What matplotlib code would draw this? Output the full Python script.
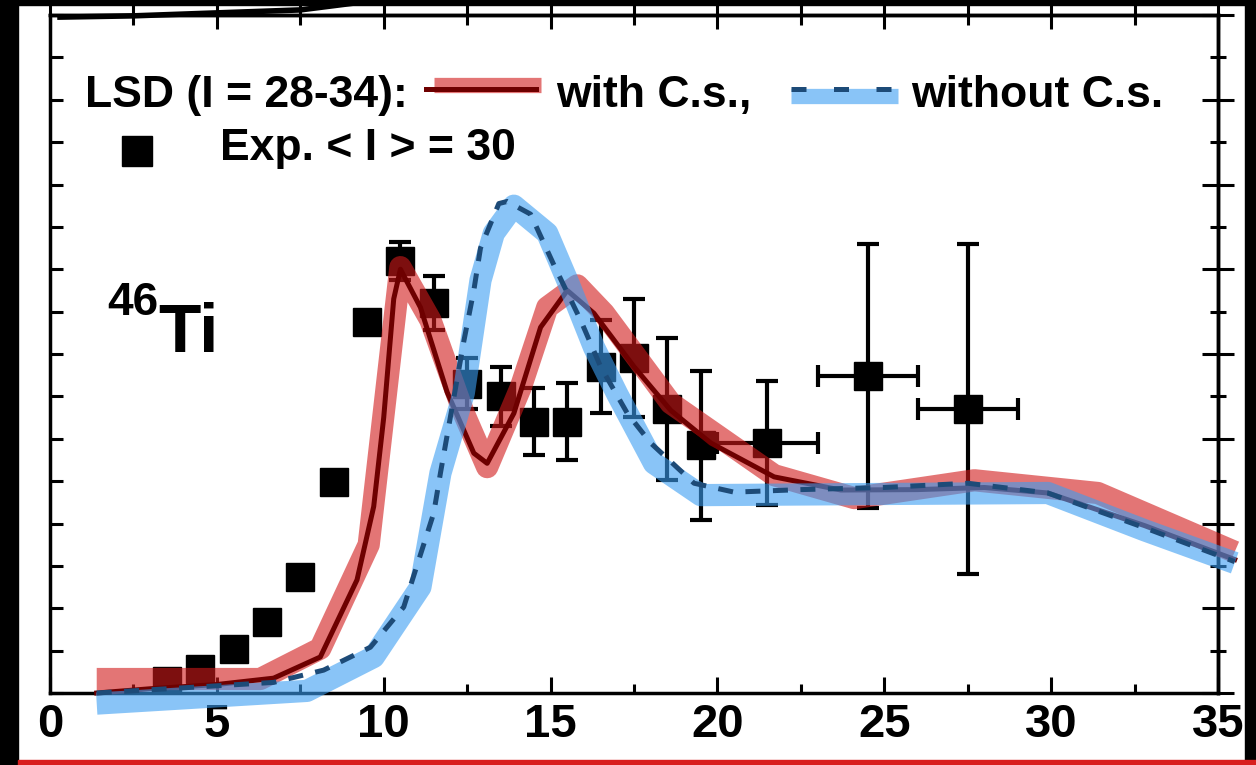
import matplotlib
matplotlib.use("Agg")
import matplotlib.pyplot as plt
from matplotlib.patches import Rectangle
from matplotlib.ticker import MultipleLocator

plt.rcParams['font.family'] = ['Liberation Sans', 'DejaVu Sans']
plt.rcParams['font.weight'] = 'bold'

# experimental points, <I> = 30
exp_x = [3.5, 4.5, 5.5, 6.5, 7.5, 8.5, 9.5, 10.5, 11.5, 12.5, 13.5, 14.5, 15.5,
         16.5, 17.5, 18.5, 19.5, 21.5, 24.5, 27.5]
exp_y = [0.28, 0.57, 1.04, 1.67, 2.74, 4.98, 8.75, 10.2, 9.2, 7.3, 7.0, 6.4, 6.4,
         7.7, 7.9, 6.7, 5.85, 5.9, 7.48, 6.7]
exp_yerr = [0, 0, 0, 0, 0, 0, 0, 0.45, 0.63, 0.6, 0.7, 0.79, 0.91,
            1.1, 1.39, 1.67, 1.76, 1.47, 3.12, 3.9]
exp_xerr = [0, 0, 0, 0, 0, 0, 0, 0, 0, 0, 0, 0, 0,
            0, 0, 0, 0, 1.5, 1.5, 1.5]

# LSD with C.s. (broad band + thin line)
red_band_x = [1.4, 6.3, 8.1, 9.55, 10.5, 11.4, 12.4, 13.1, 14.1, 14.9, 15.8, 16.6,
              18.6, 21.7, 24.1, 27.7, 31.4, 35.5]
red_band_y = [0.33, 0.33, 1.05, 3.5, 10.05, 8.8, 6.6, 5.33, 7.2, 9.1, 9.62, 8.96,
              6.84, 5.14, 4.6, 5.02, 4.72, 3.33]
red_line_x = [1.4, 3.0, 5.0, 6.7, 8.1, 9.2, 9.7, 10.0, 10.3, 10.5, 11.1, 11.9, 12.7,
              13.1, 13.9, 14.7, 15.5, 16.3, 17.5, 18.6, 19.8, 21.7, 23.7, 26.0, 28.0,
              29.9, 32.8, 35.5]
red_line_y = [0.0, 0.1, 0.2, 0.35, 0.85, 2.67, 4.4, 6.5, 9.3, 10.0, 9.1, 7.1, 5.66,
              5.42, 6.6, 8.63, 9.5, 8.96, 7.7, 6.67, 5.9, 5.1, 4.79, 4.8, 4.85,
              4.72, 3.95, 3.15]

# LSD without C.s.
blue_band_x = [1.4, 7.7, 9.7, 11.1, 11.7, 12.4, 12.9, 13.3, 13.9, 14.9, 15.5, 16.3,
               17.0, 18.1, 19.5, 29.9, 32.8, 35.5]
blue_band_y = [-0.25, 0.05, 0.85, 2.5, 5.19, 7.08, 9.74, 10.85, 11.5, 10.85, 9.74,
               8.16, 7.05, 5.42, 4.67, 4.72, 3.84, 3.07]
blue_line_x = [1.4, 6.7, 8.2, 9.6, 10.6, 11.5, 11.7, 12.4, 12.7, 12.9, 13.45, 13.7,
               14.4, 15.1, 15.9, 16.5, 17.3, 18.0, 19.3, 20.5, 22.5, 25.0, 27.5,
               29.9, 32.8, 35.5]
blue_line_y = [0.0, 0.25, 0.54, 1.08, 2.03, 4.25, 5.19, 8.3, 9.5, 10.5, 11.55, 11.6,
               11.3, 10.1, 8.8, 7.7, 6.6, 5.9, 4.95, 4.74, 4.8, 4.85, 4.95,
               4.72, 3.9, 3.1]

# edge of the neighbouring panel above
upper_x = [0.3, 2.5, 5.0, 7.5, 9.1]
upper_y = [15.95, 15.98, 16.05, 16.12, 16.28]

red_band_c = (0.82, 0.1, 0.1, 0.6)
red_line_c = '#6e0000'
blue_band_c = (0.23, 0.62, 0.95, 0.6)
blue_line_c = '#1d4b78'

fig = plt.figure(figsize=(12.56, 7.65), dpi=100)
fig.patch.set_facecolor('black')
W, H = 1256, 765
fig.patches.append(Rectangle((18 / W, 5 / H), (1245 - 18) / W, (760 - 5) / H,
                             transform=fig.transFigure, color='white', zorder=-5))

ax = fig.add_axes([50 / W, 72 / H, 1168 / W, 678 / H])
ax.set_facecolor('none')
ax.set_xlim(0, 35)
ax.set_ylim(0, 16)

ax.errorbar(exp_x, exp_y, yerr=exp_yerr, xerr=exp_xerr, fmt='s', color='black',
            markersize=20, elinewidth=3, capsize=8, capthick=3, zorder=2)

ax.plot(red_band_x, red_band_y, color=red_band_c, lw=16, solid_capstyle='butt',
        solid_joinstyle='round', zorder=3, clip_on=False)
ax.plot(red_line_x, red_line_y, color=red_line_c, lw=3.6, zorder=4, clip_on=False)
ax.plot(blue_band_x, blue_band_y, color=blue_band_c, lw=16, solid_capstyle='butt',
        solid_joinstyle='round', zorder=5, clip_on=False)
ax.plot(blue_line_x, blue_line_y, color=blue_line_c, lw=3.6, dashes=(3, 2.5),
        zorder=6, clip_on=False)
ax.plot(upper_x, upper_y, color='black', lw=4, zorder=7, clip_on=False)

# legend drawn as text rows
ax.text(1.05, 13.82, 'LSD (I = 28-34):', fontsize=32, fontweight='bold')
ax.plot([11.5, 14.7], [14.34, 14.34], color=red_band_c, lw=11, solid_capstyle='butt')
ax.plot([11.26, 14.56], [14.25, 14.25], color=red_line_c, lw=3.6)
ax.text(15.17, 13.82, 'with C.s.,', fontsize=32, fontweight='bold')
ax.plot([22.2, 25.4], [14.1, 14.1], color=blue_band_c, lw=11, solid_capstyle='butt')
ax.plot([22.2, 25.4], [14.25, 14.25], color=blue_line_c, lw=3.6, dashes=(3, 5.5))
ax.text(25.8, 13.82, 'without C.s.', fontsize=32, fontweight='bold')
ax.plot([2.61], [12.8], 's', color='black', markersize=21)
ax.text(5.1, 12.57, 'Exp. < I > = 30', fontsize=32, fontweight='bold')

ax.text(1.71, 8.92, '46', fontsize=33, fontweight='bold')
ax.text(3.24, 8.04, 'Ti', fontsize=50, fontweight='bold')

for s in ax.spines.values():
    s.set_linewidth(2.5)
ax.xaxis.set_major_locator(MultipleLocator(5))
ax.xaxis.set_minor_locator(MultipleLocator(2.5))
ax.yaxis.set_major_locator(MultipleLocator(1))
ax.tick_params(axis='x', which='major', direction='in', length=11.5, width=2.2,
               top=False, labelsize=34, pad=7)
ax.tick_params(axis='x', which='minor', direction='in', length=6.5, width=2.2, top=False)
ax.tick_params(axis='y', which='major', direction='in', length=9.5, width=2.2,
               right=False, labelleft=False)
for lab in ax.get_xticklabels():
    lab.set_fontweight('bold')

top = ax.secondary_xaxis('top')
top.xaxis.set_major_locator(MultipleLocator(5))
top.xaxis.set_minor_locator(MultipleLocator(2.5))
top.tick_params(which='major', direction='inout', length=20, width=2.2, labeltop=False)
top.tick_params(which='minor', direction='inout', length=14, width=2.2)
top.spines['top'].set_linewidth(2.5)

right = ax.secondary_yaxis('right')
right.yaxis.set_major_locator(MultipleLocator(2))
right.yaxis.set_minor_locator(MultipleLocator(1))
right.tick_params(which='major', direction='inout', length=23, width=2.2, labelright=False)
right.tick_params(which='minor', direction='inout', length=11.5, width=2.2)
right.spines['right'].set_linewidth(2.5)

# outer frame of the cropped figure
fig.patches.append(Rectangle((0, 0), 18 / W, 1, transform=fig.transFigure,
                             color='black', zorder=10))
fig.patches.append(Rectangle((1245 / W, 5 / H), 11 / W, 1, transform=fig.transFigure,
                             color='black', zorder=10))
fig.patches.append(Rectangle((0, 1 - 5 / H), 1, 5 / H, transform=fig.transFigure,
                             color='black', zorder=10))
fig.patches.append(Rectangle((18 / W, 0), 1, 5 / H, transform=fig.transFigure,
                             color='#d81e1e', zorder=11))

fig.savefig('out.png', dpi=100, facecolor=fig.get_facecolor())
